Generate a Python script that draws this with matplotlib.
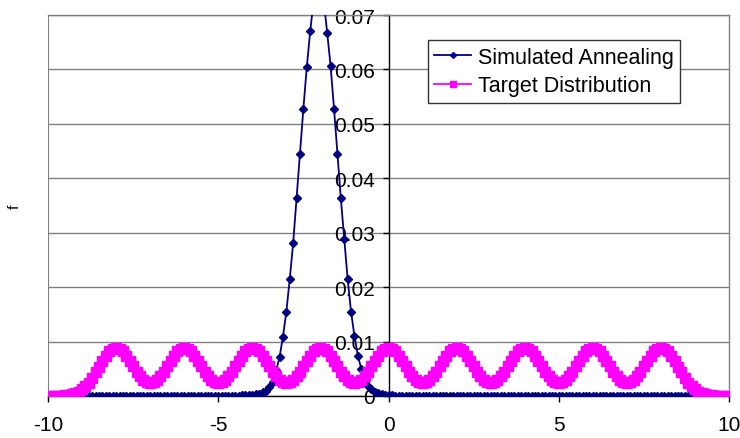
import numpy as np
import matplotlib.pyplot as plt

plt.rcParams["font.family"] = ["Liberation Sans", "DejaVu Sans"]

# x grid: -10 .. 10 in steps of 0.1
x = np.round(np.linspace(-10, 10, 201), 1)

# simulated annealing (10 values per row of x)
annealing = [
    0, 0, 0, 0, 0, 0, 0, 0, 0, 0,                                   # -10.0
    0, 0, 0, 0, 0, 0, 0, 0, 0, 0,                                   # -9.0
    0, 0, 0, 0, 0, 0, 0, 0, 0, 0,                                   # -8.0
    0, 0, 0, 0, 0, 0, 0, 0, 0, 0,                                   # -7.0
    0, 0, 0, 0, 0, 0, 0, 0, 0, 0,                                   # -6.0
    0, 0, 0, 0, 0, 0.00005, 0.00007, 0.0001, 0.00013, 0.00017,      # -5.0
    0.00022, 0.0003, 0.00045, 0.00068, 0.001, 0.0016, 0.0025, 0.0047, 0.0071, 0.0109,  # -4.0
    0.0155, 0.0215, 0.0281, 0.0363, 0.0445, 0.0528, 0.0604, 0.0670, 0.0725, 0.0752,    # -3.0
    0.0752, 0.0725, 0.0667, 0.0606, 0.0528, 0.0445, 0.0363, 0.0289, 0.0215, 0.0155,    # -2.0
    0.0110, 0.0074, 0.0050, 0.0028, 0.0018, 0.0012, 0.0008, 0.0005, 0.0003, 0.0002,    # -1.0
    0.00013, 0.0001, 0.00007, 0.00005, 0.00003, 0, 0, 0, 0, 0,      # 0.0
    0, 0, 0, 0, 0, 0, 0, 0, 0, 0,                                   # 1.0
    0, 0, 0, 0, 0, 0, 0, 0, 0, 0,                                   # 2.0
    0, 0, 0, 0, 0, 0, 0, 0, 0, 0,                                   # 3.0
    0, 0, 0, 0, 0, 0, 0, 0, 0, 0,                                   # 4.0
    0, 0, 0, 0, 0, 0, 0, 0, 0, 0,                                   # 5.0
    0, 0, 0, 0, 0, 0, 0, 0, 0, 0,                                   # 6.0
    0, 0, 0, 0, 0, 0, 0, 0, 0, 0,                                   # 7.0
    0, 0, 0, 0, 0, 0, 0, 0, 0, 0,                                   # 8.0
    0, 0, 0, 0, 0, 0, 0, 0, 0, 0,                                   # 9.0
    0,                                                              # 10.0
]

# target distribution
target = [
    0, 0.00001, 0.00001, 0.00003, 0.00005, 0.0001, 0.00018, 0.0003, 0.0005, 0.00079,            # -10.0
    0.0012, 0.00176, 0.00247, 0.00333, 0.00432, 0.00538, 0.00644, 0.00741, 0.0082, 0.0087,      # -9.0
    0.00887, 0.0087, 0.0082, 0.00744, 0.00649, 0.00548, 0.0045, 0.00363, 0.00297, 0.00255,      # -8.0
    0.0024, 0.00255, 0.00297, 0.00363, 0.0045, 0.00548, 0.00649, 0.00744, 0.0082, 0.0087,       # -7.0
    0.00887, 0.0087, 0.0082, 0.00744, 0.00649, 0.00548, 0.0045, 0.00363, 0.00297, 0.00255,      # -6.0
    0.0024, 0.00255, 0.00297, 0.00363, 0.0045, 0.00548, 0.00649, 0.00744, 0.0082, 0.0087,       # -5.0
    0.00887, 0.0087, 0.0082, 0.00744, 0.00649, 0.00548, 0.0045, 0.00363, 0.00297, 0.00255,      # -4.0
    0.0024, 0.00255, 0.00297, 0.00363, 0.0045, 0.00548, 0.00649, 0.00744, 0.0082, 0.0087,       # -3.0
    0.00887, 0.0087, 0.0082, 0.00744, 0.00649, 0.00548, 0.0045, 0.00363, 0.00297, 0.00255,      # -2.0
    0.0024, 0.00255, 0.00297, 0.00363, 0.0045, 0.00548, 0.00649, 0.00744, 0.0082, 0.0087,       # -1.0
    0.00887, 0.0087, 0.0082, 0.00744, 0.00649, 0.00548, 0.0045, 0.00363, 0.00297, 0.00255,      # 0.0
    0.0024, 0.00255, 0.00297, 0.00363, 0.0045, 0.00548, 0.00649, 0.00744, 0.0082, 0.0087,       # 1.0
    0.00887, 0.0087, 0.0082, 0.00744, 0.00649, 0.00548, 0.0045, 0.00363, 0.00297, 0.00255,      # 2.0
    0.0024, 0.00255, 0.00297, 0.00363, 0.0045, 0.00548, 0.00649, 0.00744, 0.0082, 0.0087,       # 3.0
    0.00887, 0.0087, 0.0082, 0.00744, 0.00649, 0.00548, 0.0045, 0.00363, 0.00297, 0.00255,      # 4.0
    0.0024, 0.00255, 0.00297, 0.00363, 0.0045, 0.00548, 0.00649, 0.00744, 0.0082, 0.0087,       # 5.0
    0.00887, 0.0087, 0.0082, 0.00744, 0.00649, 0.00548, 0.0045, 0.00363, 0.00297, 0.00255,      # 6.0
    0.0024, 0.00255, 0.00297, 0.00363, 0.0045, 0.00548, 0.00649, 0.00744, 0.0082, 0.0087,       # 7.0
    0.00887, 0.0087, 0.0082, 0.00741, 0.00644, 0.00538, 0.00432, 0.00333, 0.00247, 0.00176,     # 8.0
    0.0012, 0.00079, 0.0005, 0.0003, 0.00018, 0.0001, 0.00005, 0.00003, 0.00001, 0.00001,       # 9.0
    0,                                                                                          # 10.0
]

x_ticks = [-10, -5, 0, 5, 10]
x_labels = ["-10", "-5", "0", "5", "10"]
y_ticks = [0, 0.01, 0.02, 0.03, 0.04, 0.05, 0.06, 0.07]
y_labels = ["0", "0.01", "0.02", "0.03", "0.04", "0.05", "0.06", "0.07"]

grey = "#808080"

fig = plt.figure(figsize=(7.4, 4.39), dpi=100)
ax = fig.add_axes([48 / 740, 42 / 439, 681 / 740, 381 / 439])

ax.plot(x, annealing, color="#000080", marker="D", ms=4.3, lw=1.3,
        label="Simulated Annealing", zorder=3)
ax.plot(x, target, color="#FF00FF", marker="s", ms=6.5, lw=1.3,
        label="Target Distribution", zorder=4)

ax.set_xlim(-10, 10)
ax.set_ylim(0, 0.07)
ax.set_xticks(x_ticks, x_labels)
ax.set_yticks(y_ticks, y_labels)
ax.grid(axis="y", color=grey, lw=1.0)
ax.set_axisbelow(True)

# y axis crosses at x = 0, grey frame round the plot area
ax.spines["left"].set_position(("data", 0))
ax.spines["left"].set_color("black")
ax.spines["bottom"].set_color("black")
ax.spines["top"].set_color(grey)
ax.spines["right"].set_color(grey)
for s in ax.spines.values():
    s.set_linewidth(1.0)
ax.axvline(-10, color=grey, lw=1.5, zorder=0.6)

ax.tick_params(axis="y", direction="out", length=4, width=1, pad=6, labelsize=15)
ax.tick_params(axis="x", direction="out", length=4, width=1, pad=10, labelsize=15)

ax.set_ylabel("f", fontsize=11)
ax.yaxis.set_label_coords(-0.039, 0.5)

leg = ax.legend(loc="upper left", bbox_to_anchor=(0.558, 0.934), borderaxespad=0,
                fontsize=15.5, fancybox=False, framealpha=1, edgecolor="#333333",
                handlelength=1.7, handletextpad=0.3, borderpad=0.3,
                labelspacing=0.35, markerscale=0.7)
leg.get_frame().set_linewidth(1.0)

fig.savefig("out.png", dpi=100)
